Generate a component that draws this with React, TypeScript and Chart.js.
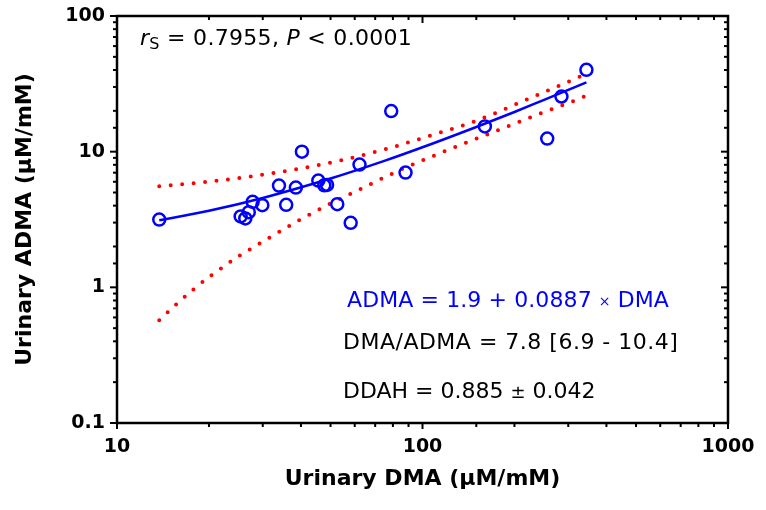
import React, { useEffect, useRef } from 'react';
import { Chart, registerables } from 'chart.js';

Chart.register(...registerables);

const dmaValues = [13.75, 25.4, 26.3, 27.0, 27.8, 29.9, 33.9, 35.8, 38.5, 40.3, 45.6, 47.7, 48.7, 52.6, 58.2, 62.2, 79.0, 88.0, 160, 256, 285, 344];
const admaValues = [3.16, 3.33, 3.22, 3.58, 4.27, 4.03, 5.62, 4.06, 5.44, 10.0, 6.12, 5.65, 5.69, 4.10, 2.99, 8.03, 19.9, 7.01, 15.35, 12.5, 25.5, 40.1];

// Regression line
const fitDma = [13.75, 20, 30, 50, 75, 100, 150, 200, 250, 300, 344];
const fitAdma = [3.12, 3.67, 4.56, 6.34, 8.55, 10.77, 15.2, 19.6, 24.1, 28.5, 32.4];

// 95% confidence band
const upperDma = [13.75, 19.5, 27.7, 39.0, 54.9, 77.6, 108, 150, 208, 267, 344];
const upperAdma = [5.56, 5.98, 6.58, 7.46, 8.69, 10.6, 13.3, 16.9, 23.0, 29.2, 37.5];
const lowerDma = [13.75, 15.6, 17.8, 20.4, 25.3, 31.7, 39.7, 50.1, 63.3, 86.9, 120, 167, 231, 319, 344];
const lowerAdma = [0.572, 0.746, 0.967, 1.23, 1.72, 2.34, 3.15, 4.15, 5.37, 7.54, 10.2, 13.7, 18.3, 24.1, 25.9];

// Axis settings
const xMin = 10;
const xMax = 1000;
const yMin = 0.1;
const yMax = 100;
const xTitle = 'Urinary DMA (µM/mM)';
const yTitle = 'Urinary ADMA (µM/mM)';

// Annotation texts
const statText = { r: 'r', sub: 'S', mid: ' = 0.7955, ', p: 'P', end: ' < 0.0001' };
const eqParts = ['ADMA = 1.9 + 0.0887 ', '×', ' DMA'];
const ratioText = 'DMA/ADMA = 7.8 [6.9 - 10.4]';
const ddahParts = ['DDAH = 0.885 ', '±', ' 0.042'];

const FONT = '"DejaVu Sans", Verdana, sans-serif';
const BLUE = '#0000ff';
const RED = '#ff0000';

function isPow10(v: number) {
  const l = Math.log10(v);
  return Math.abs(l - Math.round(l)) < 1e-6;
}
function fmt(v: number) {
  return v >= 1 ? String(Math.round(v)) : v.toFixed(1);
}
function toPts(xs: number[], ys: number[]) {
  return xs.map((x, i) => ({ x, y: ys[i] }));
}
function zeroPad(s: any) {
  s.paddingTop = 0;
  s.paddingBottom = 0;
  s.paddingLeft = 0;
  s.paddingRight = 0;
}

const framePlugin = {
  id: 'frameTicks',
  afterDraw(chart: any) {
    const { ctx, chartArea: a, scales } = chart;
    const xs = scales.x;
    const ys = scales.y;
    ctx.save();
    ctx.strokeStyle = '#000';
    ctx.lineCap = 'butt';
    const seg = (x1: number, y1: number, x2: number, y2: number) => {
      ctx.beginPath();
      ctx.moveTo(x1, y1);
      ctx.lineTo(x2, y2);
      ctx.stroke();
    };
    ctx.lineWidth = 2;
    ys.ticks.forEach((t: any) => {
      const major = isPow10(t.value);
      const py = ys.getPixelForValue(t.value);
      seg(a.left - (major ? 7 : 4), py, a.left, py);
      seg(a.right - (major ? 7 : 4), py, a.right, py);
    });
    xs.ticks.forEach((t: any) => {
      const major = isPow10(t.value);
      const px = xs.getPixelForValue(t.value);
      seg(px, a.bottom, px, a.bottom + (major ? 6 : 4));
      seg(px, a.top, px, a.top + (major ? 7 : 4));
    });
    ctx.lineWidth = 2.5;
    ctx.strokeRect(a.left, a.top, a.right - a.left, a.bottom - a.top);

    // annotations
    ctx.textBaseline = 'alphabetic';
    ctx.textAlign = 'left';
    const draw = (txt: string, x: number, y: number, font: string, color: string, ls: string) => {
      (ctx as any).letterSpacing = ls;
      ctx.font = font;
      ctx.fillStyle = color;
      ctx.fillText(txt, x, y);
      return x + ctx.measureText(txt).width;
    };
    const normal = `22px ${FONT}`;
    const italic = `italic 22px ${FONT}`;
    let x = a.left + 23;
    let y = a.top + 29;
    x = draw(statText.r, x, y, italic, '#000', '0.3px');
    x = draw(statText.sub, x, y + 4, `16px ${FONT}`, '#000', '0.3px');
    x = draw(statText.mid, x, y, normal, '#000', '0.3px');
    x = draw(statText.p, x, y, italic, '#000', '0.3px');
    draw(statText.end, x, y, normal, '#000', '0.3px');

    x = a.left + 230;
    y = a.top + 291;
    x = draw(eqParts[0], x, y, normal, BLUE, '0.1px');
    x = draw(eqParts[1], x, y - 1, `14px ${FONT}`, BLUE, '0px');
    draw(eqParts[2], x, y, normal, BLUE, '0.1px');

    draw(ratioText, a.left + 226, a.top + 333, normal, '#000', '0.5px');

    x = a.left + 226;
    y = a.top + 382;
    x = draw(ddahParts[0], x, y, normal, '#000', '0px');
    x = draw(ddahParts[1], x, y, `18px ${FONT}`, '#000', '0px');
    draw(ddahParts[2], x, y, normal, '#000', '0px');
    ctx.restore();
  },
};

export default function App() {
  const ref = useRef<HTMLCanvasElement>(null);
  useEffect(() => {
    const tickFont = { family: FONT, size: 19, weight: 'bold' as const };
    const titleFont = { family: FONT, size: 22, weight: 'bold' as const };
    const chart = new Chart(ref.current!, {
      type: 'scatter',
      data: {
        datasets: [
          {
            type: 'scatter',
            data: toPts(dmaValues, admaValues),
            pointStyle: 'circle',
            pointRadius: 6,
            pointBorderWidth: 2.5,
            borderColor: BLUE,
            backgroundColor: 'rgba(0,0,0,0)',
            order: 0,
          } as any,
          {
            type: 'line',
            data: toPts(fitDma, fitAdma),
            borderColor: BLUE,
            borderWidth: 2.5,
            pointRadius: 0,
            cubicInterpolationMode: 'monotone',
            fill: false,
            order: 1,
          },
          {
            type: 'line',
            data: toPts(upperDma, upperAdma),
            borderColor: RED,
            borderWidth: 4,
            borderDash: [0, 11.5],
            borderCapStyle: 'round',
            pointRadius: 0,
            cubicInterpolationMode: 'monotone',
            fill: false,
            order: 2,
          },
          {
            type: 'line',
            data: toPts(lowerDma, lowerAdma),
            borderColor: RED,
            borderWidth: 4,
            borderDash: [0, 11.5],
            borderCapStyle: 'round',
            pointRadius: 0,
            cubicInterpolationMode: 'monotone',
            fill: false,
            order: 3,
          },
        ],
      },
      options: {
        responsive: false,
        animation: false,
        devicePixelRatio: 1,
        layout: { padding: { left: 0, top: 16, right: 38, bottom: 0 } },
        plugins: { legend: { display: false }, tooltip: { enabled: false } },
        scales: {
          x: {
            type: 'logarithmic',
            position: 'bottom',
            min: xMin,
            max: xMax,
            afterFit: (s: any) => { s.height = 87; zeroPad(s); },
            grid: { display: false, drawTicks: false },
            border: { display: false },
            ticks: {
              autoSkip: false,
              maxRotation: 0,
              minRotation: 0,
              padding: 13,
              color: '#000',
              font: tickFont,
              callback: (v: any) => (isPow10(Number(v)) ? fmt(Number(v)) : ''),
            },
            title: { display: true, text: xTitle, color: '#000', font: titleFont, padding: { top: 0, bottom: 18 } },
          },
          y: {
            type: 'logarithmic',
            position: 'left',
            min: yMin,
            max: yMax,
            afterFit: (s: any) => { s.width = 117; zeroPad(s); },
            grid: { display: false, drawTicks: false },
            border: { display: false },
            ticks: {
              autoSkip: false,
              padding: 12,
              color: '#000',
              font: tickFont,
              callback: (v: any) => (isPow10(Number(v)) ? fmt(Number(v)) : ''),
            },
            title: { display: true, text: yTitle, color: '#000', font: titleFont, padding: { top: 12, bottom: 0 } },
          },
        },
      },
      plugins: [framePlugin],
    } as any);
    return () => chart.destroy();
  }, []);
  return (
    <div style={{ position: 'fixed', left: 0, top: 0, width: 766, height: 510, background: '#fff' }}>
      <canvas ref={ref} width={766} height={510} style={{ display: 'block' }} />
    </div>
  );
}
